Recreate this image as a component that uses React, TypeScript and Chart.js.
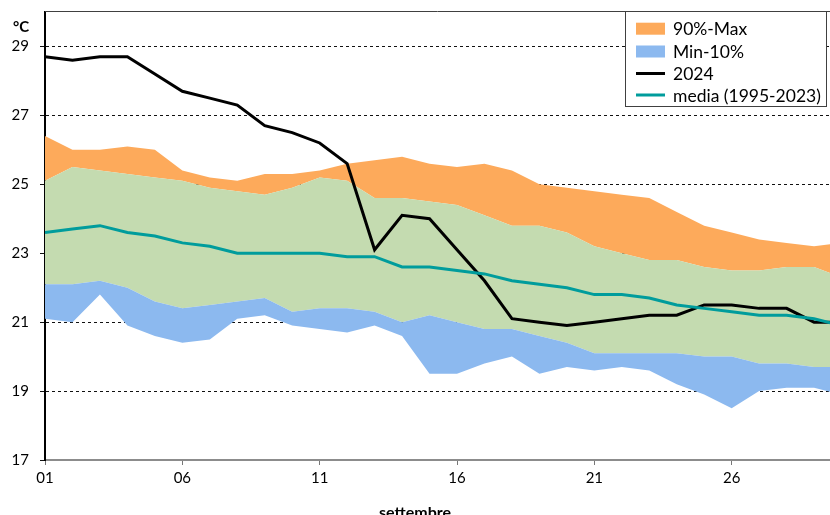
import React, { useEffect, useRef } from "react";
import { Chart, registerables } from "chart.js";

Chart.register(...registerables);

const days = [1, 2, 3, 4, 5, 6, 7, 8, 9, 10, 11, 12, 13, 14, 15, 16, 17, 18, 19, 20, 21, 22, 23, 24, 25, 26, 27, 28, 29, 30];
const maxVals = [26.4, 26.0, 26.0, 26.1, 26.0, 25.4, 25.2, 25.1, 25.3, 25.3, 25.4, 25.6, 25.7, 25.8, 25.6, 25.5, 25.6, 25.4, 25.0, 24.9, 24.8, 24.7, 24.6, 24.2, 23.8, 23.6, 23.4, 23.3, 23.2, 23.3];
const p90Vals = [25.1, 25.5, 25.4, 25.3, 25.2, 25.1, 24.9, 24.8, 24.7, 24.9, 25.2, 25.1, 24.6, 24.6, 24.5, 24.4, 24.1, 23.8, 23.8, 23.6, 23.2, 23.0, 22.8, 22.8, 22.6, 22.5, 22.5, 22.6, 22.6, 22.3];
const p10Vals = [22.1, 22.1, 22.2, 22.0, 21.6, 21.4, 21.5, 21.6, 21.7, 21.3, 21.4, 21.4, 21.3, 21.0, 21.2, 21.0, 20.8, 20.8, 20.6, 20.4, 20.1, 20.1, 20.1, 20.1, 20.0, 20.0, 19.8, 19.8, 19.7, 19.7];
const minVals = [21.1, 21.0, 21.8, 20.9, 20.6, 20.4, 20.5, 21.1, 21.2, 20.9, 20.8, 20.7, 20.9, 20.6, 19.5, 19.5, 19.8, 20.0, 19.5, 19.7, 19.6, 19.7, 19.6, 19.2, 18.9, 18.5, 19.0, 19.1, 19.1, 18.9];
const vals2024 = [28.7, 28.6, 28.7, 28.7, 28.2, 27.7, 27.5, 27.3, 26.7, 26.5, 26.2, 25.6, 23.1, 24.1, 24.0, 23.1, 22.2, 21.1, 21.0, 20.9, 21.0, 21.1, 21.2, 21.2, 21.5, 21.5, 21.4, 21.4, 21.0, 21.0];
const mediaVals = [23.6, 23.7, 23.8, 23.6, 23.5, 23.3, 23.2, 23.0, 23.0, 23.0, 23.0, 22.9, 22.9, 22.6, 22.6, 22.5, 22.4, 22.2, 22.1, 22.0, 21.8, 21.8, 21.7, 21.5, 21.4, 21.3, 21.2, 21.2, 21.1, 20.9];

const xTickDays = [1, 6, 11, 16, 21, 26];
const xTickLabels = ["01", "06", "11", "16", "21", "26"];
const yTickValues = [17, 19, 21, 23, 25, 27, 29];

const ORANGE = "#FDAA5B";
const GREEN = "#C4DBB0";
const BLUE = "#8CB9EF";
const TEAL = "#009C9C";

const pts = (arr: number[]) => days.map((d, i) => ({ x: d, y: arr[i] }));

const decor = {
  id: "decor",
  afterDraw(chart: any) {
    const { ctx, chartArea } = chart;
    ctx.save();
    // top frame line
    ctx.strokeStyle = "#404040";
    ctx.lineWidth = 1;
    ctx.beginPath();
    ctx.moveTo(chartArea.left, 11.5);
    ctx.lineTo(chartArea.right, 11.5);
    ctx.stroke();

    // unit label
    ctx.fillStyle = "#000";
    ctx.font = "bold 15px Lato";
    ctx.textAlign = "center";
    ctx.textBaseline = "middle";
    ctx.fillText("°C", 21, 27);

    // x title
    ctx.font = "bold 16px Lato";
    ctx.textBaseline = "alphabetic";
    ctx.fillText("settembre", 415, 518);

    // legend
    const bx = 625.5, by = 11.5, bw = 201, bh = 95;
    ctx.fillStyle = "#fff";
    ctx.fillRect(bx, by, bw, bh);
    ctx.strokeStyle = "#404040";
    ctx.lineWidth = 1;
    ctx.strokeRect(bx, by, bw, bh);
    const items = [
      { label: "90%-Max", type: "box", color: ORANGE },
      { label: "Min-10%", type: "box", color: BLUE },
      { label: "2024", type: "line", color: "#000" },
      { label: "media (1995-2023)", type: "line", color: TEAL },
    ];
    const rows = [28.7, 51.5, 73.5, 95];
    ctx.font = "17.5px Lato";
    ctx.textAlign = "left";
    ctx.textBaseline = "middle";
    items.forEach((it, i) => {
      const cy = rows[i];
      if (it.type === "box") {
        ctx.fillStyle = it.color;
        ctx.fillRect(636, cy - 6, 29, 12);
      } else {
        ctx.strokeStyle = it.color;
        ctx.lineWidth = 3;
        ctx.beginPath();
        ctx.moveTo(636, cy);
        ctx.lineTo(665, cy);
        ctx.stroke();
      }
      ctx.fillStyle = "#000";
      ctx.fillText(it.label, 673, cy + 1);
    });
    ctx.restore();
  },
};

export default function App() {
  const ref = useRef<HTMLCanvasElement>(null);
  useEffect(() => {
    document.body.style.margin = "0";
    Chart.defaults.font.family = "Lato";
    const chart = new Chart(ref.current!, {
      type: "line",
      data: {
        datasets: [
          { label: "90%-Max", data: pts(maxVals), borderWidth: 0, pointRadius: 0, fill: "+1", backgroundColor: ORANGE, order: 5 },
          { label: "p90", data: pts(p90Vals), borderWidth: 0, pointRadius: 0, fill: "+1", backgroundColor: GREEN, order: 4 },
          { label: "Min-10%", data: pts(p10Vals), borderWidth: 0, pointRadius: 0, fill: "+1", backgroundColor: BLUE, order: 3 },
          { label: "min", data: pts(minVals), borderWidth: 0, pointRadius: 0, fill: false, order: 2 },
          { label: "2024", data: pts(vals2024), borderColor: "#000", borderWidth: 3, pointRadius: 0, fill: false, order: 1 },
          { label: "media (1995-2023)", data: pts(mediaVals), borderColor: TEAL, borderWidth: 3, pointRadius: 0, fill: false, order: 0 },
        ],
      },
      options: {
        responsive: false,
        animation: false,
        layout: { padding: { top: 12, left: 0, right: 0, bottom: 0 } },
        plugins: { legend: { display: false }, tooltip: { enabled: false } },
        scales: {
          x: {
            type: "linear",
            min: 1,
            max: 29.58,
            afterFit: (s: any) => { s.height = 55; s.paddingLeft = 0; s.paddingRight = 0; },
            afterBuildTicks: (s: any) => { s.ticks = xTickDays.map((v) => ({ value: v })); },
            ticks: {
              color: "#000",
              font: { size: 15 },
              padding: 4,
              maxRotation: 0,
              autoSkip: false,
              callback: (v: any) => { const i = xTickDays.indexOf(v); return i >= 0 ? xTickLabels[i] : ""; },
            },
            grid: { drawOnChartArea: false, drawTicks: true, tickLength: 5, tickColor: "#777", tickWidth: 1 },
            border: { color: "#8c8c8c", width: 2 },
          },
          y: {
            min: 17,
            max: 30,
            afterFit: (s: any) => { s.width = 45; s.paddingTop = 0; s.paddingBottom = 0; },
            afterBuildTicks: (s: any) => { s.ticks = yTickValues.map((v) => ({ value: v })); },
            ticks: { color: "#000", font: { size: 15 }, padding: 11, autoSkip: false },
            grid: {
              color: (c: any) => (c.tick && c.tick.value === 17 ? "rgba(0,0,0,0)" : "#111"),
              tickColor: "#111",
              lineWidth: 1,
              tickLength: 5,
            },
            border: { color: "#000", width: 2, dash: [3, 3] } as any,
          },
        },
      },
      plugins: [decor],
    });
    return () => chart.destroy();
  }, []);
  return (
    <div style={{ width: 830, height: 515 }}>
      <canvas ref={ref} width={830} height={515} style={{ display: "block" }} />
    </div>
  );
}
